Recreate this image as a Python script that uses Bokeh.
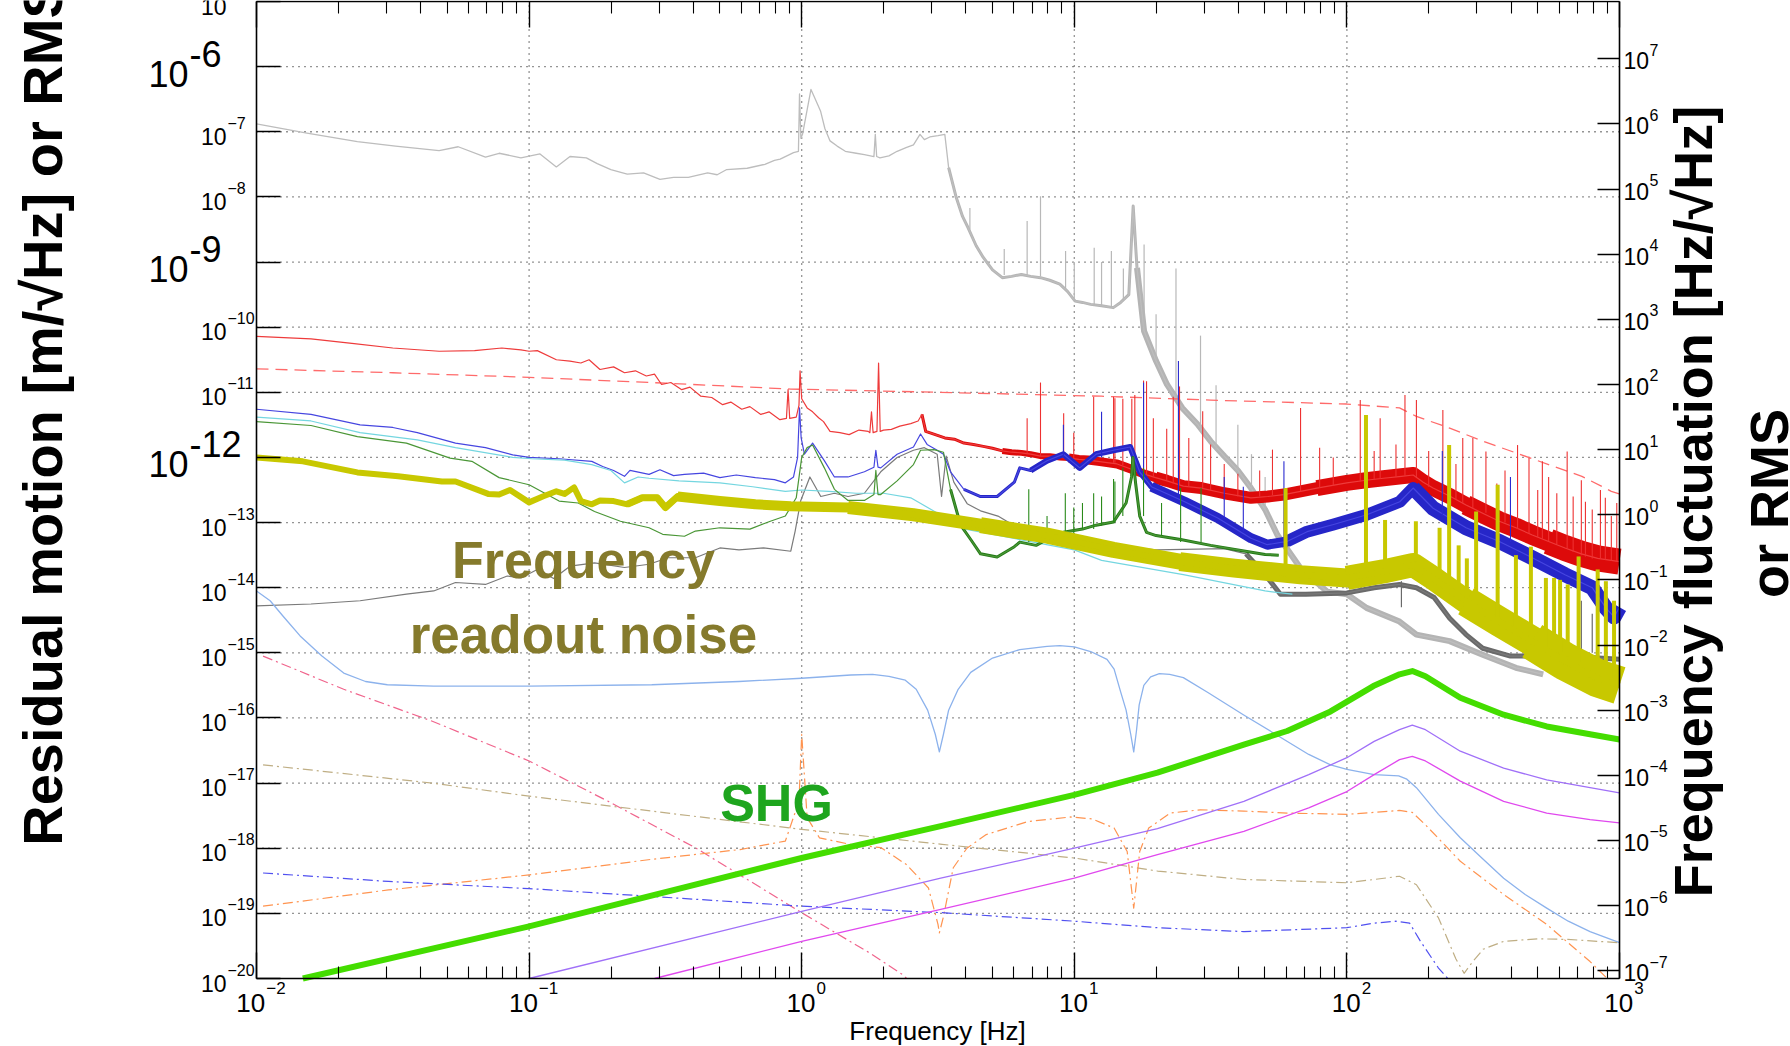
import numpy as np
from math import pi
from bokeh.plotting import figure
from bokeh.models import (Range1d, LogAxis, FixedTicker, CustomJSTickFormatter,
                          Label, ColumnDataSource)
from bokeh.embed import file_html
from bokeh.resources import INLINE

# ---------------------------------------------------------------------------
# Spectra, stored as (log10 frequency [Hz], log10 amplitude [m/rtHz]) pairs
# ---------------------------------------------------------------------------
gray_free = [
    (-2.00, -6.88), (-1.815, -7.02), (-1.63, -7.15), (-1.49, -7.22), (-1.33, -7.29),
    (-1.26, -7.23), (-1.16, -7.39), (-1.11, -7.33), (-1.03, -7.40), (-0.96, -7.34),
    (-0.90, -7.54), (-0.85, -7.38), (-0.79, -7.40), (-0.75, -7.49), (-0.70, -7.58),
    (-0.64, -7.65), (-0.58, -7.63), (-0.52, -7.73), (-0.47, -7.70), (-0.416, -7.70),
    (-0.345, -7.63), (-0.31, -7.66), (-0.275, -7.58), (-0.20, -7.56), (-0.135, -7.50),
    (-0.10, -7.44), (-0.079, -7.42), (-0.03, -7.32), (-0.012, -7.30), (-0.008, -6.42),
    (-0.003, -7.10), (0.003, -7.04), (0.034, -6.35), (0.050, -6.50), (0.069, -6.68),
    (0.085, -6.95), (0.104, -7.14), (0.13, -7.22), (0.16, -7.30), (0.20, -7.33),
    (0.23, -7.35), (0.265, -7.38), (0.27, -7.04), (0.275, -7.38), (0.287, -7.40),
    (0.32, -7.37), (0.35, -7.30), (0.385, -7.24), (0.41, -7.20), (0.434, -7.04),
    (0.45, -7.12), (0.47, -7.08), (0.50, -7.06), (0.525, -7.04), (0.539, -7.55),
    (0.567, -8.01), (0.59, -8.30), (0.61, -8.47), (0.64, -8.75), (0.666, -8.93),
    (0.70, -9.12), (0.736, -9.24), (0.77, -9.22), (0.806, -9.19), (0.84, -9.22),
    (0.876, -9.24), (0.91, -9.28), (0.947, -9.34), (0.975, -9.45), (1.003, -9.60),
    (1.03, -9.62), (1.06, -9.65), (1.10, -9.67), (1.143, -9.70), (1.17, -9.62),
    (1.20, -9.50), (1.216, -8.14), (1.23, -9.09), (1.256, -10.06), (1.30, -10.52),
    (1.34, -10.88), (1.396, -11.24), (1.452, -11.49), (1.50, -11.75), (1.55, -11.98),
    (1.60, -12.20), (1.648, -12.47), (1.70, -12.80), (1.745, -13.19), (1.83, -13.70),
    (1.927, -14.06), (2.00, -14.10), (2.072, -14.31), (2.193, -14.52), (2.255, -14.72),
    (2.377, -14.82), (2.498, -15.03), (2.62, -15.23), (2.72, -15.33),
]
gray_free_spikes = [  # (log f, foot, top)
    (0.617, -8.50, -8.17), (0.743, -9.20, -8.80), (0.827, -9.20, -8.37),
    (0.876, -9.22, -7.99), (0.968, -9.40, -8.83), (1.000, -9.60, -9.00),
    (1.073, -9.66, -8.78), (1.100, -9.67, -9.00), (1.136, -9.70, -8.83),
    (1.180, -9.60, -9.10), (1.256, -10.00, -8.73), (1.300, -10.50, -9.80),
    (1.373, -11.10, -9.10), (1.463, -11.60, -10.13), (1.520, -11.90, -10.89),
    (1.600, -12.20, -11.50), (1.650, -12.50, -11.95), (1.700, -12.80, -12.30),
]

gray_dark = [
    (-2.00, -14.28), (-1.80, -14.25), (-1.62, -14.20), (-1.45, -14.10), (-1.35, -14.05),
    (-1.27, -13.92), (-1.16, -13.95), (-1.08, -13.82), (-1.03, -13.85), (-0.97, -13.72),
    (-0.91, -13.86), (-0.85, -13.67), (-0.76, -13.62), (-0.65, -13.69), (-0.56, -13.64),
    (-0.49, -13.54), (-0.39, -13.54), (-0.30, -13.39), (-0.23, -13.42), (-0.14, -13.39),
    (-0.04, -13.44), (-0.024, -13.13), (-0.004, -12.67), (0.03, -12.30), (0.07, -12.60),
    (0.12, -12.55), (0.17, -12.60), (0.23, -12.55), (0.29, -12.22), (0.35, -12.00),
    (0.41, -11.89), (0.45, -11.85), (0.497, -11.95), (0.513, -12.60), (0.53, -11.98),
    (0.558, -12.38), (0.607, -12.71), (0.656, -12.82), (0.72, -12.90), (0.80, -13.10),
    (1.00, -13.30), (1.30, -13.42), (1.55, -13.40), (1.63, -13.48), (1.70, -13.80),
    (1.756, -14.10), (1.85, -14.10), (2.00, -14.08), (2.10, -14.00), (2.193, -13.95),
    (2.255, -14.00), (2.32, -14.15), (2.377, -14.47), (2.437, -14.72), (2.498, -14.93),
    (2.60, -15.05), (2.80, -15.05), (3.00, -15.10),
]
gray_dark_spikes = [(2.20, -14.30, -13.90), (2.86, -15.00, -14.20), (2.90, -15.00, -14.40)]

red_limit = [  # dashed
    (-2.00, -10.64), (-1.50, -10.70), (-1.00, -10.77), (-0.50, -10.86), (-0.04, -10.95),
    (0.50, -11.00), (1.10, -11.06), (1.50, -11.12), (2.00, -11.18), (2.193, -11.24),
    (2.255, -11.37), (2.377, -11.55), (2.498, -11.75), (2.62, -11.93), (2.74, -12.11),
    (2.862, -12.29), (2.97, -12.52), (3.00, -12.56),
]

red_total = [
    (-2.00, -10.14), (-1.80, -10.18), (-1.65, -10.25), (-1.50, -10.32), (-1.33, -10.37),
    (-1.20, -10.36), (-1.10, -10.32), (-1.03, -10.35), (-1.00, -10.37), (-0.97, -10.36),
    (-0.90, -10.50), (-0.85, -10.52), (-0.81, -10.55), (-0.78, -10.50), (-0.74, -10.65),
    (-0.69, -10.61), (-0.65, -10.70), (-0.61, -10.67), (-0.57, -10.75), (-0.54, -10.72),
    (-0.514, -10.88), (-0.48, -10.85), (-0.44, -10.96), (-0.41, -10.92), (-0.37, -11.06),
    (-0.33, -11.08), (-0.29, -11.19), (-0.26, -11.15), (-0.22, -11.26), (-0.19, -11.22),
    (-0.15, -11.34), (-0.12, -11.30), (-0.08, -11.42), (-0.056, -11.40), (-0.05, -10.96),
    (-0.044, -11.40), (-0.02, -11.38), (-0.01, -11.20), (-0.006, -10.67), (0.00, -11.10),
    (0.02, -11.24), (0.04, -11.30), (0.062, -11.39), (0.08, -11.45), (0.104, -11.60),
    (0.14, -11.62), (0.174, -11.65), (0.21, -11.58), (0.244, -11.60), (0.25, -11.62),
    (0.256, -11.30), (0.262, -11.62), (0.276, -11.60), (0.282, -10.55), (0.288, -11.60),
    (0.30, -11.58), (0.329, -11.57), (0.36, -11.52), (0.40, -11.48), (0.427, -11.44),
    (0.441, -11.34), (0.455, -11.60), (0.49, -11.65), (0.525, -11.70), (0.56, -11.72),
    (0.595, -11.78), (0.63, -11.80), (0.666, -11.83), (0.70, -11.86), (0.736, -11.90),
    (0.77, -11.92), (0.806, -11.93), (0.84, -11.95), (0.876, -11.98), (0.91, -11.98),
    (0.947, -12.00), (0.98, -12.01), (1.017, -12.03), (1.05, -12.04), (1.087, -12.06),
    (1.12, -12.08), (1.157, -12.10), (1.19, -12.15), (1.228, -12.21), (1.26, -12.26),
    (1.298, -12.31), (1.34, -12.36), (1.40, -12.44), (1.465, -12.47), (1.55, -12.55),
    (1.648, -12.62), (1.71, -12.60), (1.769, -12.57), (1.83, -12.52), (1.89, -12.47),
    (2.00, -12.39), (2.07, -12.35), (2.134, -12.32), (2.20, -12.29), (2.243, -12.27),
    (2.28, -12.38), (2.316, -12.47), (2.38, -12.60), (2.437, -12.73), (2.50, -12.86),
    (2.559, -12.98), (2.62, -13.08), (2.68, -13.19), (2.74, -13.29), (2.80, -13.39),
    (2.86, -13.48), (2.92, -13.55), (3.00, -13.60),
]
red_total_spikes = [
    (0.827, -11.95, -11.40), (0.876, -11.98, -10.85), (0.961, -12.00, -11.32),
    (0.998, -12.02, -11.62), (1.071, -12.05, -11.07), (1.144, -12.08, -11.07),
    (1.149, -12.08, -11.09), (1.178, -12.12, -11.10), (1.211, -12.18, -11.10),
    (1.222, -12.20, -11.04), (1.254, -12.25, -10.82), (1.265, -12.26, -10.83),
    (1.290, -12.30, -11.40), (1.339, -12.35, -11.56), (1.363, -12.40, -11.07),
    (1.386, -12.42, -10.91), (1.420, -12.45, -11.70), (1.471, -12.47, -11.29),
    (1.500, -12.50, -11.80), (1.550, -12.55, -12.10), (1.600, -12.60, -12.25),
    (1.680, -12.60, -12.20), (1.727, -12.58, -11.88), (1.830, -12.52, -11.24),
    (1.900, -12.47, -11.85), (1.950, -12.43, -12.00), (2.049, -12.37, -11.12),
    (2.100, -12.34, -11.90), (2.122, -12.33, -11.40), (2.180, -12.30, -11.80),
    (2.213, -12.28, -11.04), (2.255, -12.30, -11.12), (2.300, -12.45, -11.90),
    (2.352, -12.55, -11.27), (2.400, -12.65, -12.10), (2.425, -12.70, -11.70),
    (2.462, -12.78, -11.70), (2.510, -12.85, -11.91), (2.550, -12.95, -12.40),
    (2.580, -13.00, -12.20), (2.626, -13.10, -11.81), (2.668, -13.17, -12.01),
    (2.700, -13.22, -12.50), (2.717, -13.25, -12.06), (2.740, -13.29, -12.30),
    (2.770, -13.33, -12.55), (2.808, -13.40, -11.91), (2.830, -13.45, -12.60),
    (2.860, -13.50, -12.35), (2.875, -13.52, -12.68), (2.900, -13.55, -12.80),
    (2.930, -13.56, -12.50), (2.948, -13.57, -12.62), (2.970, -13.58, -12.90),
    (2.990, -13.60, -12.70),
]

blue_total = [
    (-2.00, -11.26), (-1.80, -11.34), (-1.62, -11.50), (-1.50, -11.54), (-1.41, -11.62),
    (-1.27, -11.78), (-1.16, -11.85), (-1.06, -11.96), (-1.00, -12.00), (-0.89, -12.02),
    (-0.77, -12.06), (-0.73, -12.14), (-0.69, -12.20), (-0.65, -12.29), (-0.63, -12.20),
    (-0.56, -12.26), (-0.52, -12.19), (-0.47, -12.28), (-0.43, -12.26), (-0.36, -12.24),
    (-0.30, -12.31), (-0.24, -12.27), (-0.17, -12.31), (-0.10, -12.34), (-0.06, -12.39),
    (-0.03, -12.30), (-0.015, -12.00), (-0.008, -11.24), (-0.002, -11.70), (0.01, -11.95),
    (0.04, -11.78), (0.083, -12.05), (0.12, -12.30), (0.17, -12.30), (0.23, -12.22),
    (0.265, -12.15), (0.272, -11.89), (0.28, -12.15), (0.29, -12.16), (0.35, -11.95),
    (0.41, -11.84), (0.436, -11.64), (0.46, -11.80), (0.497, -11.89), (0.52, -11.95),
    (0.546, -12.22), (0.595, -12.49), (0.656, -12.60), (0.717, -12.60), (0.78, -12.38),
    (0.80, -12.16), (0.84, -12.20), (0.90, -12.05), (0.96, -11.95), (1.02, -12.16),
    (1.08, -11.95), (1.144, -11.89), (1.205, -11.84), (1.24, -12.22), (1.283, -12.45),
    (1.405, -12.68), (1.526, -12.93), (1.648, -13.24), (1.708, -13.34), (1.78, -13.29),
    (1.854, -13.14), (1.951, -13.03), (2.073, -12.88), (2.194, -12.68), (2.243, -12.47),
    (2.316, -12.78), (2.437, -13.08), (2.559, -13.29), (2.68, -13.54), (2.80, -13.80),
    (2.90, -14.00), (2.95, -14.31), (2.98, -14.45), (3.00, -14.30),
]
blue_total_spikes = [
    (0.960, -12.00, -11.50), (1.100, -12.00, -11.30), (1.254, -12.30, -10.85),
    (1.382, -12.60, -10.52), (1.550, -12.95, -12.30), (1.620, -13.15, -12.45),
    (1.769, -13.30, -12.06), (2.350, -12.90, -11.90), (2.600, -13.30, -12.30),
]

cyan_total = [
    (-2.00, -11.38), (-1.80, -11.44), (-1.62, -11.62), (-1.41, -11.73), (-1.27, -11.85),
    (-1.06, -12.00), (-0.99, -12.02), (-0.87, -12.04), (-0.77, -12.11), (-0.70, -12.20),
    (-0.65, -12.39), (-0.60, -12.30), (-0.56, -12.32), (-0.45, -12.36), (-0.30, -12.39),
    (-0.18, -12.45), (-0.06, -12.52), (0.00, -12.50), (0.10, -12.52), (0.20, -12.55),
    (0.30, -12.55), (0.40, -12.62), (0.60, -13.10), (1.00, -13.42), (1.10, -13.58),
    (1.40, -13.80), (1.70, -14.05), (1.80, -14.10),
]

green_total = [
    (-2.00, -11.45), (-1.80, -11.51), (-1.63, -11.68), (-1.45, -11.78), (-1.29, -12.01),
    (-1.21, -12.06), (-1.11, -12.31), (-1.00, -12.42), (-0.89, -12.67), (-0.82, -12.70),
    (-0.76, -12.83), (-0.665, -12.98), (-0.56, -13.08), (-0.51, -13.18), (-0.43, -13.21),
    (-0.39, -13.13), (-0.30, -13.08), (-0.19, -13.10), (-0.115, -12.98), (-0.06, -12.90),
    (-0.02, -12.62), (0.00, -12.00), (0.02, -11.85), (0.04, -11.81), (0.083, -12.16),
    (0.12, -12.49), (0.17, -12.66), (0.23, -12.66), (0.265, -12.57), (0.272, -12.20),
    (0.28, -12.57), (0.29, -12.57), (0.35, -12.36), (0.41, -12.11), (0.436, -11.89),
    (0.485, -11.88), (0.52, -11.92), (0.546, -12.49), (0.583, -13.04), (0.62, -13.26),
    (0.656, -13.48), (0.717, -13.53), (0.78, -13.37), (0.80, -13.30), (0.86, -13.35),
    (0.90, -13.26), (0.96, -13.15), (1.03, -13.10), (1.08, -13.04), (1.144, -12.99),
    (1.19, -12.70), (1.21, -12.30), (1.215, -12.00), (1.225, -12.40), (1.24, -12.90),
    (1.265, -13.15), (1.30, -13.20), (1.39, -13.26), (1.50, -13.35), (1.60, -13.42),
    (1.70, -13.49), (1.75, -13.50),
]
green_total_spikes = [
    (0.833, -13.30, -12.49), (0.900, -13.25, -12.90), (0.967, -13.20, -12.55),
    (0.998, -13.20, -12.77), (1.030, -13.10, -12.70), (1.071, -13.10, -12.55),
    (1.100, -13.05, -12.60), (1.144, -13.00, -12.33), (1.149, -13.00, -12.37),
    (1.178, -12.90, -12.16), (1.254, -12.90, -12.16), (1.320, -13.20, -12.70),
    (1.390, -13.30, -12.47), (1.465, -13.30, -12.47),
]

readout = [  # frequency readout noise (thick yellow)
    (-2.00, -12.00), (-1.83, -12.06), (-1.63, -12.23), (-1.48, -12.29), (-1.32, -12.37),
    (-1.27, -12.37), (-1.15, -12.56), (-1.11, -12.57), (-1.07, -12.50), (-1.00, -12.69),
    (-0.95, -12.60), (-0.90, -12.52), (-0.87, -12.56), (-0.835, -12.46), (-0.81, -12.67),
    (-0.77, -12.72), (-0.74, -12.66), (-0.69, -12.67), (-0.64, -12.72), (-0.585, -12.62),
    (-0.53, -12.62), (-0.50, -12.77), (-0.455, -12.60), (-0.30, -12.67), (-0.17, -12.72),
    (-0.04, -12.75), (0.17, -12.77), (0.41, -12.88), (0.656, -13.04), (0.90, -13.20),
    (1.144, -13.42), (1.387, -13.60), (1.587, -13.70), (1.83, -13.80), (2.00, -13.85),
    (2.134, -13.75), (2.243, -13.65), (2.316, -13.85), (2.437, -14.21), (2.559, -14.52),
    (2.68, -14.82), (2.80, -15.13), (2.92, -15.39), (3.00, -15.50),
]
readout_spikes = [
    (1.775, -13.80, -12.47), (2.070, -13.80, -11.35), (2.140, -13.75, -12.96),
    (2.253, -13.60, -12.98), (2.340, -13.80, -13.08), (2.375, -13.95, -11.81),
    (2.410, -14.05, -13.35), (2.440, -14.15, -13.55), (2.474, -14.25, -12.83),
    (2.553, -14.45, -12.42), (2.620, -14.60, -13.50), (2.675, -14.75, -13.37),
    (2.730, -14.90, -13.85), (2.760, -14.95, -13.85), (2.782, -15.00, -13.88),
    (2.810, -15.05, -13.95), (2.850, -15.15, -13.52), (2.920, -15.30, -13.72),
    (2.950, -15.35, -13.90), (2.980, -15.40, -14.20),
]

# noise models (smooth curves)
light_blue = [
    (-2.00, -14.05), (-1.95, -14.20), (-1.90, -14.45), (-1.84, -14.74), (-1.76, -15.05),
    (-1.68, -15.31), (-1.60, -15.44), (-1.52, -15.49), (-1.35, -15.51), (-1.00, -15.51),
    (-0.55, -15.49), (-0.23, -15.44), (0.00, -15.39), (0.18, -15.34), (0.26, -15.33),
    (0.32, -15.36), (0.38, -15.42), (0.42, -15.56), (0.462, -15.88), (0.49, -16.25),
    (0.505, -16.52), (0.52, -16.25), (0.539, -15.88), (0.574, -15.56), (0.62, -15.30),
    (0.70, -15.08), (0.80, -14.95), (0.90, -14.90), (0.947, -14.89), (1.00, -14.91),
    (1.06, -14.98), (1.12, -15.10), (1.146, -15.25), (1.17, -15.60), (1.19, -15.88),
    (1.207, -16.25), (1.218, -16.52), (1.228, -16.20), (1.238, -15.80), (1.255, -15.50),
    (1.28, -15.37), (1.312, -15.32), (1.35, -15.33), (1.40, -15.38), (1.49, -15.61),
    (1.62, -15.95), (1.75, -16.28), (1.86, -16.56), (1.94, -16.72), (2.00, -16.79),
    (2.10, -16.87), (2.19, -16.89), (2.22, -16.94), (2.255, -17.07), (2.336, -17.48),
    (2.416, -17.84), (2.495, -18.15), (2.575, -18.46), (2.654, -18.71), (2.733, -18.92),
    (2.812, -19.12), (2.892, -19.28), (3.00, -19.45),
]
shg = [
    (-1.83, -20.00), (-1.00, -19.20), (0.00, -18.15), (0.51, -17.66),
    (1.00, -17.18), (1.305, -16.84), (1.622, -16.41), (1.781, -16.20), (1.94, -15.90),
    (2.097, -15.51), (2.193, -15.33), (2.24, -15.28), (2.288, -15.36), (2.416, -15.69),
    (2.575, -15.95), (2.733, -16.13), (2.892, -16.25), (3.00, -16.33),
]
purple = [
    (-1.00, -20.00), (0.00, -18.97), (0.51, -18.46), (1.00, -18.00),
    (1.305, -17.70), (1.622, -17.28), (1.86, -16.87), (2.00, -16.61), (2.10, -16.36),
    (2.193, -16.18), (2.24, -16.11), (2.288, -16.18), (2.416, -16.51), (2.575, -16.77),
    (2.733, -16.95), (2.892, -17.07), (3.00, -17.15),
]
magenta = [
    (-0.54, -20.00), (0.00, -19.43), (0.51, -18.94), (1.00, -18.46),
    (1.305, -18.10), (1.622, -17.74), (1.86, -17.38), (2.00, -17.13), (2.10, -16.87),
    (2.193, -16.64), (2.24, -16.59), (2.288, -16.66), (2.416, -16.97), (2.575, -17.28),
    (2.733, -17.46), (2.892, -17.56), (3.00, -17.61),
]
pink_dd = [
    (-1.976, -15.05), (-1.68, -15.56), (-1.355, -16.05), (-1.00, -16.66), (-0.71, -17.28),
    (-0.387, -18.00), (0.00, -18.99), (0.258, -19.63), (0.37, -19.94), (0.385, -20.00),
]
tan_dd = [
    (-1.976, -16.72), (-1.355, -17.00), (-1.00, -17.20), (-0.55, -17.43), (0.00, -17.71),
    (0.515, -17.94), (1.00, -18.15), (1.305, -18.35), (1.622, -18.48), (2.00, -18.53),
    (2.10, -18.48), (2.193, -18.43), (2.255, -18.56), (2.336, -19.07), (2.40, -19.70),
    (2.43, -19.92), (2.46, -19.75), (2.50, -19.55), (2.575, -19.43), (2.70, -19.39),
    (2.81, -19.40), (3.00, -19.45),
]
orange_dd = [
    (-1.976, -18.89), (-1.516, -18.64), (-1.00, -18.41), (-0.55, -18.17), (-0.226, -18.02),
    (-0.06, -17.89), (-0.01, -17.28), (0.00, -16.25), (0.02, -17.53), (0.065, -17.84),
    (0.177, -17.94), (0.29, -17.99), (0.384, -18.25), (0.465, -18.61), (0.50, -19.17),
    (0.505, -19.30), (0.52, -19.05), (0.556, -18.30), (0.606, -18.00), (0.677, -17.79),
    (0.829, -17.59), (0.987, -17.52), (1.065, -17.55), (1.146, -17.69), (1.194, -18.05),
    (1.218, -18.92), (1.24, -18.05), (1.273, -17.69), (1.352, -17.46), (1.462, -17.41),
    (1.622, -17.43), (1.781, -17.46), (2.00, -17.48), (2.193, -17.42), (2.24, -17.45),
    (2.288, -17.64), (2.416, -18.20), (2.575, -18.71), (2.733, -19.17), (2.892, -19.74),
    (2.955, -20.00),
]
blue_dd = [
    (-1.976, -18.38), (-1.516, -18.51), (-1.00, -18.62), (-0.55, -18.74), (0.00, -18.89),
    (0.515, -18.99), (1.00, -19.12), (1.305, -19.22), (1.622, -19.28), (2.00, -19.22),
    (2.10, -19.15), (2.18, -19.12), (2.23, -19.15), (2.27, -19.43), (2.336, -19.84),
    (2.37, -20.00),
]

# axis decades
x_decades = list(range(-2, 4))
y_decades = list(range(-20, -4))
r_decades = list(range(-7, 8))
big_y_labels = [-6, -9, -12]
RIGHT_SHIFT = 12.88  # offset (decades) of the Hz/rtHz scale against the m/rtHz scale

# ---------------------------------------------------------------------------
# Geometry: the Bokeh frame fills the canvas; the plot box sits inside it
# ---------------------------------------------------------------------------
W, H = 1790, 1046
BOX_L, BOX_R, BOX_T, BOX_B = 256, 1619, 1, 978
XD0, XD1 = x_decades[0], x_decades[-1]
YD0, YD1 = y_decades[0], y_decades[-1]
x_per_px = (XD1 - XD0) / (BOX_R - BOX_L)
y_per_px = (YD1 - YD0) / (BOX_B - BOX_T)
XL0, XL1 = XD0 - BOX_L * x_per_px, XD1 + (W - BOX_R) * x_per_px
YL1, YL0 = YD1 + BOX_T * y_per_px, YD0 - (H - BOX_B) * y_per_px


def x_px(dec):
    return BOX_L + (dec - XD0) / x_per_px


def y_px(dec):
    return BOX_T + (YD1 - dec) / y_per_px


def px_x(X):
    return 10 ** (XD0 + (X - BOX_L) * x_per_px)


def px_y(Y):
    return 10 ** (YD1 - (Y - BOX_T) * y_per_px)


p = figure(width=W, height=H, x_axis_type="log", y_axis_type="log",
           x_range=Range1d(10.0 ** XL0, 10.0 ** XL1),
           y_range=Range1d(10.0 ** YL0, 10.0 ** YL1),
           output_backend="svg", toolbar_location=None, title=None,
           min_border=0, background_fill_color="white", border_fill_color="white")
p.outline_line_color = None
p.grid.visible = False
p.extra_y_ranges = {"freq": Range1d(10.0 ** (YL0 + RIGHT_SHIFT), 10.0 ** (YL1 + RIGHT_SHIFT))}

x_minor = [m * 10.0 ** d for d in x_decades[:-1] for m in range(2, 10)]
x_ticker = FixedTicker(ticks=[10.0 ** d for d in x_decades], minor_ticks=x_minor)
y_ticker = FixedTicker(ticks=[10.0 ** d for d in y_decades], minor_ticks=[])
r_ticker = FixedTicker(ticks=[10.0 ** d for d in r_decades], minor_ticks=[])


def style_axis(ax, ticker, tick_in, minor_in, location, bounds):
    ax.ticker = ticker
    ax.fixed_location = location
    ax.bounds = bounds
    ax.formatter = CustomJSTickFormatter(code="return ''")
    ax.major_label_text_font_size = "0px"
    ax.major_label_standoff = 0
    ax.axis_label = None
    ax.major_tick_in = tick_in
    ax.major_tick_out = 0
    ax.minor_tick_in = minor_in
    ax.minor_tick_out = 0
    ax.axis_line_color = "black"
    ax.axis_line_width = 1.6
    ax.major_tick_line_color = "black"
    ax.major_tick_line_width = 1.4
    ax.minor_tick_line_color = "black"
    ax.minor_tick_line_width = 1.1


xb = (10.0 ** XD0, 10.0 ** XD1)
yb = (10.0 ** YD0, 10.0 ** YD1)
style_axis(p.xaxis[0], x_ticker, 26, 12, 10.0 ** YD0, xb)
style_axis(p.yaxis[0], y_ticker, 24, 0, 10.0 ** XD0, yb)
top_ax = LogAxis()
style_axis(top_ax, x_ticker, 26, 12, 10.0 ** YD1, xb)
p.add_layout(top_ax, "above")
right_ax = LogAxis(y_range_name="freq")
style_axis(right_ax, r_ticker, 22, 0, 10.0 ** XD1,
           (10.0 ** (YD0 + RIGHT_SHIFT), 10.0 ** (YD1 + RIGHT_SHIFT)))
p.add_layout(right_ax, "right")

# dotted decade grid inside the box
gx = [10.0 ** d for d in x_decades[1:-1]]
gy = [10.0 ** d for d in y_decades[1:-1]]
p.segment(gx, [yb[0]] * len(gx), gx, [yb[1]] * len(gx),
          line_color="#2a2a2a", line_dash="1 5", line_width=1.3)
p.segment([xb[0]] * len(gy), gy, [xb[1]] * len(gy), gy,
          line_color="#2a2a2a", line_dash="1 5", line_width=1.3)


# ---------------------------------------------------------------------------
# drawing helpers
# ---------------------------------------------------------------------------
def trace(pts, color, width=1.2, dash="solid"):
    a = np.asarray(pts, float)
    p.line(10 ** a[:, 0], 10 ** a[:, 1], line_color=color, line_width=width,
           line_dash=dash, line_join="round")


def noisy(pts, spans, color):
    """Thicken a trace over frequency spans where it is a dense noise band."""
    a = np.asarray(pts, float)
    n = len(a)
    xs, ys, ws = [], [], []
    for lo, hi, w in spans:
        idx = np.where((a[:, 0] >= lo) & (a[:, 0] <= hi))[0]
        if len(idx) == 0:
            continue
        i0, i1 = max(idx[0] - 1, 0), min(idx[-1] + 1, n - 1)
        xs.append(10 ** a[i0:i1 + 1, 0])
        ys.append(10 ** a[i0:i1 + 1, 1])
        ws.append(w)
    src = ColumnDataSource(dict(xs=xs, ys=ys, w=ws))
    p.multi_line("xs", "ys", line_width="w", line_color=color, line_join="round",
                 line_cap="butt", source=src)


def spikes(tri, color, width=1.0):
    a = np.asarray(tri, float)
    p.segment(10 ** a[:, 0], 10 ** a[:, 1], 10 ** a[:, 0], 10 ** a[:, 2],
              line_color=color, line_width=width)


# measured spectra
noisy(gray_free, [(0.55, 1.25, 3), (1.25, 2.72, 6)], "#b4b4b4")
trace(gray_free, "#bdbdbd", 1.3)
spikes(gray_free_spikes, "#b8b8b8", 1.2)

noisy(gray_dark, [(1.70, 3.00, 5)], "#6a6a6a")
trace(gray_dark, "#7a7a7a", 1.2)
spikes(gray_dark_spikes, "#6a6a6a", 1.2)

trace(red_limit, "#ff6a6a", 1.3, "12 7")

noisy(red_total, [(0.45, 0.75, 3), (0.75, 1.0, 6), (1.0, 1.3, 9), (1.3, 2.0, 12),
                  (2.0, 2.5, 16), (2.5, 2.8, 20), (2.8, 3.0, 26)], "#dd0a0a")
trace(red_total, "#ee3b3b", 1.2)
spikes(red_total_spikes, "#ee3030", 1.1)

noisy(blue_total, [(0.6, 0.9, 3), (0.9, 1.3, 6), (1.3, 1.8, 10), (1.8, 2.3, 12),
                   (2.3, 3.0, 15)], "#2626c8")
trace(blue_total, "#4646e0", 1.2)
spikes(blue_total_spikes, "#2a2ad0", 1.1)

trace(cyan_total, "#74d6e0", 1.2)

noisy(green_total, [(0.55, 1.75, 3)], "#237a16")
trace(green_total, "#4a9636", 1.2)
spikes(green_total_spikes, "#2a8a1a", 1.1)

noisy(readout, [(-0.6, -0.3, 7), (-0.3, 0.2, 10), (0.2, 0.8, 13), (0.8, 1.5, 16),
                (1.5, 2.1, 19), (2.1, 2.5, 24), (2.5, 2.8, 30), (2.8, 3.0, 38)], "#c8c800")
trace(readout, "#c8c800", 6)
spikes(readout_spikes, "#c8c800", 4)

# noise models
dd = "10 4 2 4"
trace(light_blue, "#8cb2ec", 1.3)
trace(pink_dd, "#f0648c", 1.2, dd)
trace(tan_dd, "#bfae84", 1.2, dd)
trace(orange_dd, "#ff9450", 1.2, dd)
trace(blue_dd, "#5050f0", 1.2, dd)
trace(purple, "#a070f8", 1.3)
trace(magenta, "#e048ee", 1.3)
trace(shg, "#44dd00", 6)


# ---------------------------------------------------------------------------
# texts
# ---------------------------------------------------------------------------
def put(text, X, Y, size, color="black", align="center", baseline="middle",
        bold=False, angle=0.0):
    p.add_layout(Label(x=px_x(X), y=px_y(Y), text=text, text_font="Liberation Sans",
                       text_font_size=f"{size}px", text_color=color, text_align=align,
                       text_baseline=baseline, angle=angle,
                       text_font_style="bold" if bold else "normal"))


def exp_text(k, minus="\u2212"):
    return (minus + str(-k)) if k < 0 else str(k)


# left tick labels
for k in y_decades:
    Y = y_px(k)
    if k in big_y_labels:
        put("10", 188, Y + 7, 36, align="right")
        put(exp_text(k, "-"), 189, Y - 13, 36, align="left")
    else:
        put("10", 226, Y + 4.5, 23, align="right")
        put(exp_text(k), 227, Y - 9, 16, align="left")

# right tick labels
for k in r_decades:
    Y = y_px(k - RIGHT_SHIFT)
    put("10", 1623, Y + 2, 23, align="left")
    put(exp_text(k), 1649, Y - 9, 16, align="left")

# bottom tick labels
for k in x_decades:
    Xt = x_px(k)
    e = exp_text(k)
    w10 = 2 * 0.556 * 26
    we = sum(0.584 if c == "\u2212" else 0.556 for c in e) * 17
    x0 = Xt + 4 - (w10 + we) / 2
    put("10", x0, 1002, 26, align="left")
    put(e, x0 + w10 + 1, 987, 17, align="left")

put("Frequency [Hz]", 937, 1030, 26)
put("Residual motion [m/\u221aHz] or RMS", 42, 413, 56, bold=True, angle=pi / 2)
put("Frequency fluctuation [Hz/\u221aHz]", 1692, 501, 54, bold=True, angle=pi / 2)
put("or RMS", 1768, 503, 54, bold=True, angle=pi / 2)

put("Frequency", 583, 559, 52, color="#857a2c", bold=True, baseline="alphabetic")
put("readout noise", 583, 634, 53, color="#857a2c", bold=True, baseline="alphabetic")
put("SHG", 776, 802, 52, color="#1ea51e", bold=True, baseline="alphabetic")

open("out.html", "w").write(file_html(p, INLINE))
